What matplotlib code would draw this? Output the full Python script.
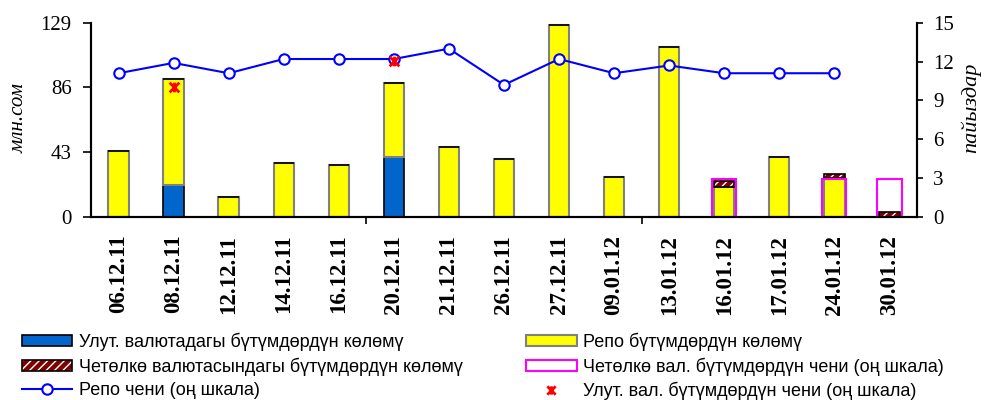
import matplotlib
matplotlib.use("Agg")
import matplotlib.pyplot as plt
import numpy as np
from matplotlib.patches import Patch
from matplotlib.lines import Line2D
from matplotlib.path import Path

# data
dates = ["06.12.11", "08.12.11", "12.12.11", "14.12.11", "16.12.11", "20.12.11",
         "21.12.11", "26.12.11", "27.12.11", "09.01.12", "13.01.12", "16.01.12",
         "17.01.12", "24.01.12", "30.01.12"]
nat_vol = [0, 21.1, 0, 0, 0, 39.5, 0, 0, 0, 0, 0, 0, 0, 0, 0]
repo_vol = [43.7, 70.5, 12.9, 35.7, 34.6, 49.4, 46.5, 38.6, 127.7, 26.6, 113.0,
            19.5, 39.9, 25.5, 0]
fx_vol = [0, 0, 0, 0, 0, 0, 0, 0, 0, 0, 0, 4.4, 0, 2.9, 3.0]
fx_rate = [0, 0, 0, 0, 0, 0, 0, 0, 0, 0, 0, 2.95, 0, 2.95, 2.95]
repo_rate = [11.1, 11.9, 11.1, 12.2, 12.2, 12.2, 13.0, 10.2, 12.2, 11.1, 11.7,
             11.1, 11.1, 11.1, np.nan]
nat_rate = [np.nan, 10.05, np.nan, np.nan, np.nan, 12.07, np.nan, np.nan, np.nan,
            np.nan, np.nan, np.nan, np.nan, np.nan, np.nan]

serif = ["Liberation Serif", "DejaVu Serif"]
sans = ["Liberation Sans", "DejaVu Sans"]

# "ж"-like star marker (x with a vertical stroke)
star = Path([(0, -1), (0, 1), (-1, -1), (1, 1), (-1, 1), (1, -1)],
            [Path.MOVETO, Path.LINETO] * 3)

x = np.arange(len(dates))
w = 0.37

fig = plt.figure(figsize=(9.87, 4.0), dpi=100)
ax = fig.add_axes([0.0922, 0.458, 0.8368, 0.485])
ax2 = ax.twinx()

nat = np.array(nat_vol)
repo = np.array(repo_vol)
fx = np.array(fx_vol)

ax.bar(x, nat, w, color="#0066CC", edgecolor="black", linewidth=1.2)
ax.bar(x, repo, w, bottom=nat, color="#FFFF00", edgecolor="#808080", linewidth=1.5)
ax.bar(x, fx, w, bottom=nat + repo, color="#800000", edgecolor="white",
       hatch="////", linewidth=0)
ax.bar(x, fx, w, bottom=nat + repo, fill=False, edgecolor="black", linewidth=1.2)

ax2.bar(x, fx_rate, 0.44, fill=False, edgecolor="#FF00FF", linewidth=1.5)
ax2.plot(x, repo_rate, "-o", color="#0000FF", lw=1.5, ms=7.5,
         markerfacecolor="white", markeredgewidth=1.5, zorder=5)
ax2.plot(x, nat_rate, linestyle="none", marker=star, color="red",
         ms=7, markeredgewidth=2, zorder=6)

ax.set_xlim(-0.5, len(dates) - 0.5)
ax.set_ylim(0, 129)
ax2.set_ylim(0, 15)
ax.set_yticks([0, 43, 86, 129])
ax2.set_yticks([0, 3, 6, 9, 12, 15])

ax.set_xticks(x)
ax.set_xticklabels(dates, rotation=90, fontfamily=serif, fontweight="bold",
                   fontsize=16.5)
ax.tick_params(axis="x", length=0, pad=13)
ax.set_xticks([4.5, 9.5], minor=True)
ax.tick_params(axis="x", which="minor", length=5, width=1.2, direction="out")
ax.tick_params(axis="y", length=6, width=1.2, labelsize=15, pad=8)
ax2.tick_params(axis="y", length=4, width=1.2, labelsize=15, pad=7.5)
for lab in ax.get_yticklabels() + ax2.get_yticklabels():
    lab.set_fontfamily(serif)

for a in (ax, ax2):
    a.spines["top"].set_visible(False)
    for s in ("left", "right", "bottom"):
        a.spines[s].set_linewidth(1.5)

fig.text(0.019, 0.705, "млн.сом", rotation=90, ha="center", va="center",
         fontfamily=serif, fontstyle="italic", fontsize=15)
fig.text(0.984, 0.73, "пайыздар", rotation=90, ha="center", va="center",
         fontfamily=serif, fontstyle="italic", fontsize=16)

# legend, two columns
h_nat = Patch(facecolor="#0066CC", edgecolor="black", linewidth=1.2)
h_fx = (Patch(facecolor="#800000", edgecolor="white", hatch="////", linewidth=0),
        Patch(fill=False, edgecolor="black", linewidth=1.2))
h_line = Line2D([], [], color="#0000FF", marker="o", markerfacecolor="white",
                lw=1.5, ms=7.5, mew=1.5)
h_repo = Patch(facecolor="#FFFF00", edgecolor="#808080", linewidth=1.5)
h_rate = Patch(facecolor="white", edgecolor="#FF00FF", linewidth=1.5)
h_nr = Line2D([], [], linestyle="none", marker=star, color="red", ms=6, mew=2)

kw = dict(frameon=False, loc="upper left", borderpad=0, borderaxespad=0,
          handlelength=2.8, handleheight=0.55, handletextpad=0.35,
          labelspacing=0.35, prop={"family": sans, "size": 13})
leg1 = fig.legend([h_nat, h_fx, h_line],
                  ["Улут. валютадагы бүтүмдөрдүн көлөмү",
                   "Четөлкө валютасындагы бүтүмдөрдүн көлөмү",
                   "Репо чени (оң шкала)"],
                  bbox_to_anchor=(0.022, 0.168), **kw)
leg2 = fig.legend([h_repo, h_rate, h_nr],
                  ["Репо бүтүмдөрдүн көлөмү",
                   "Четөлкө вал. бүтүмдөрдүн чени (оң шкала)",
                   "Улут. вал. бүтүмдөрдүн чени (оң шкала)"],
                  bbox_to_anchor=(0.533, 0.168), **kw)

fig.savefig("out.png", dpi=100)
